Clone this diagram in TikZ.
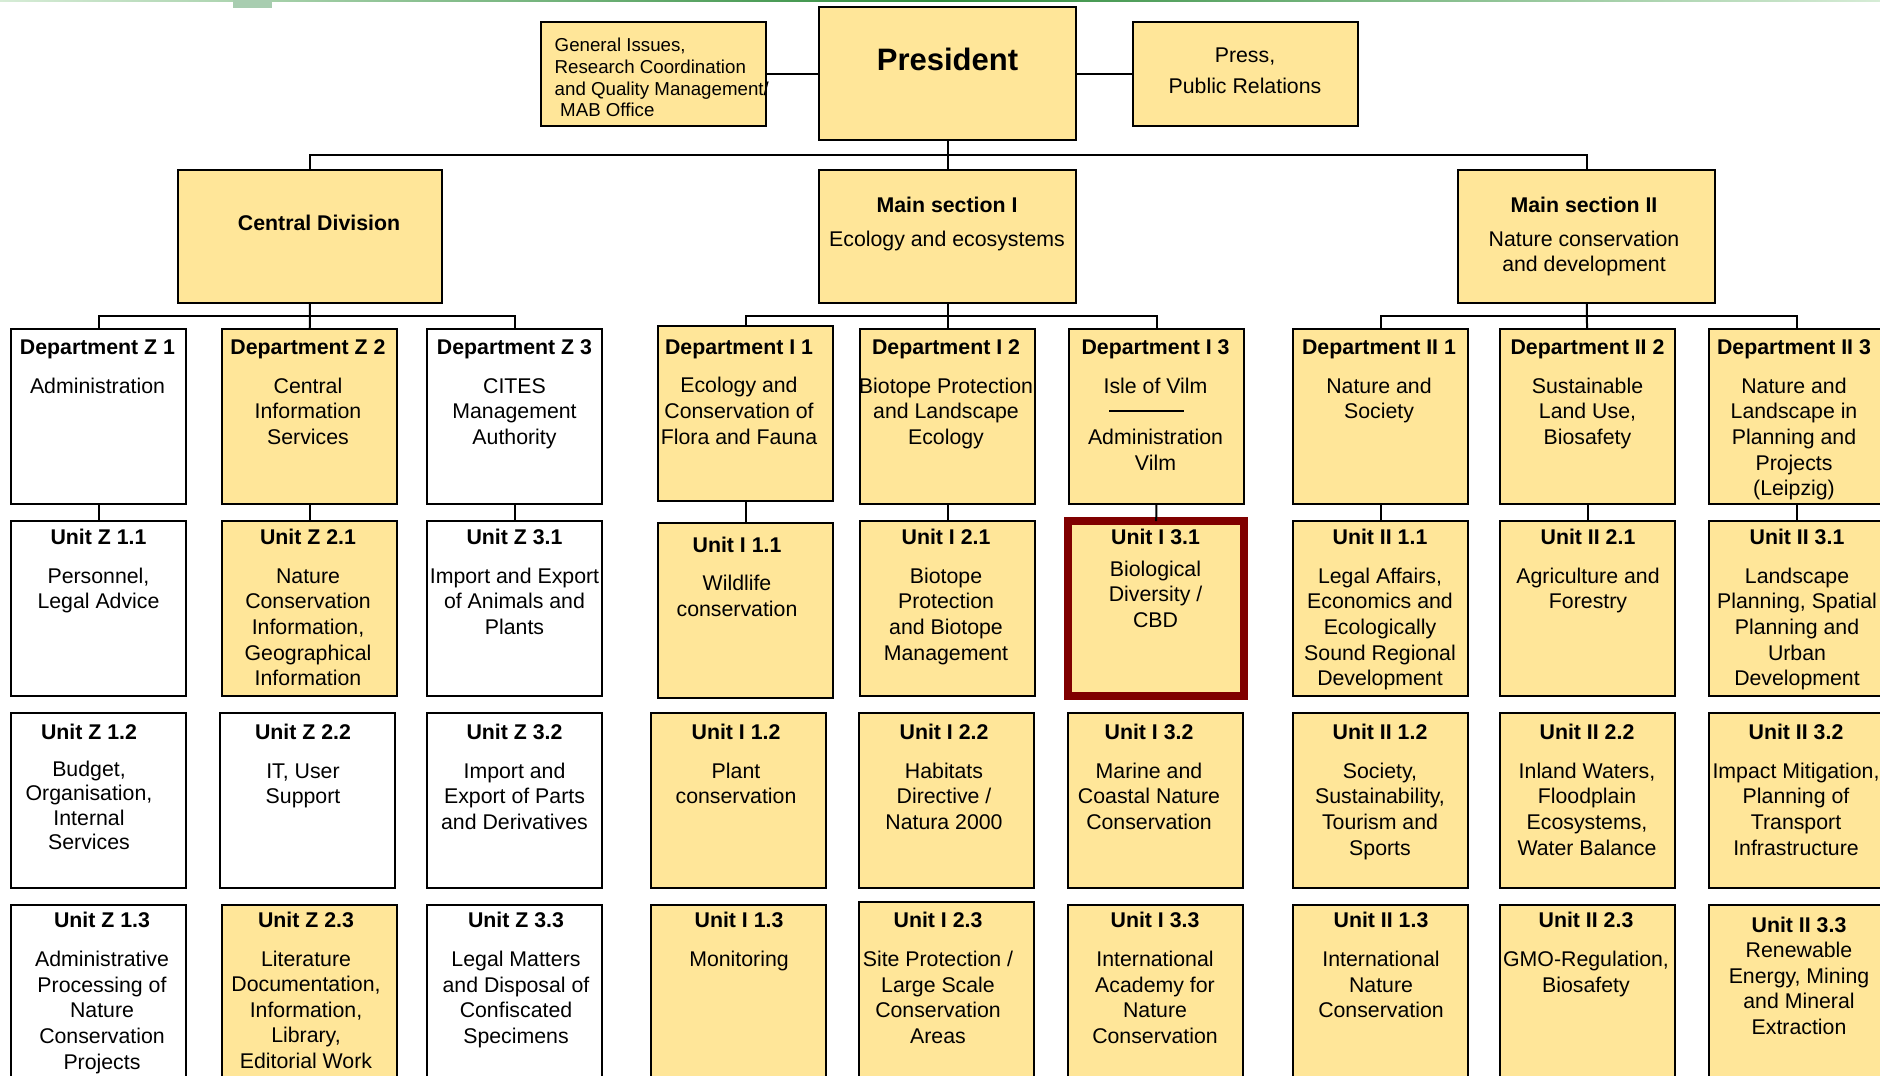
\documentclass[tikz,border=0pt]{standalone}
\usepackage{fontspec}
\setmainfont{Liberation Sans}
\definecolor{ybox}{RGB}{255,230,153}
\definecolor{redb}{RGB}{128,0,0}
\definecolor{gdark}{RGB}{46,139,60}
\definecolor{glight}{RGB}{214,236,214}
\definecolor{gpatch}{RGB}{168,205,176}
\newcommand\obox[4]{\node[#2] (#1) at (#3+1,#4+1) {};}
\newcommand\otxt[7][]{\node[txt,#1] (#2) at (#3,#4) {\strut\textbf{#6}\\[#5pt]#7};}
\tikzset{
  box/.style={draw=black, line width=2pt, fill=ybox, minimum width=175pt, minimum height=175pt, inner sep=0pt, outer sep=0pt, anchor=north west},
  wbox/.style={box, fill=white},
  topbox/.style={draw=black, line width=2pt, fill=ybox, inner sep=0pt, outer sep=0pt, anchor=north west},
  txt/.style={anchor=north, inner sep=0pt, align=center, font=\fontsize{21.3}{25.6}\selectfont},
  conn/.style={draw=black, line width=2pt},
}
\begin{document}
\begin{tikzpicture}[x=1pt,y=-1pt]
\useasboundingbox (0,0) rectangle (1880,1076);
\clip (0,0) rectangle (1880,1076);
\fill[white] (0,0) rectangle (1880,1076);
% top decoration
\shade[left color=glight, right color=gdark] (0,0) rectangle (940,1.6);
\shade[left color=gdark, right color=glight] (940,0) rectangle (1880,1.6);
\fill[gpatch] (233,0) rectangle (272,8);

% top level boxes
\node[topbox, minimum width=257pt, minimum height=133pt] (pres) at (819,7) {};
\node[topbox, minimum width=225pt, minimum height=104pt] (gen) at (541,22) {};
\node[topbox, minimum width=225pt, minimum height=104pt] (press) at (1133,22) {};
\node[topbox, minimum width=264pt, minimum height=133pt] (cd) at (178,170) {};
\node[topbox, minimum width=257pt, minimum height=133pt] (m1) at (819,170) {};
\node[topbox, minimum width=257pt, minimum height=133pt] (m2) at (1458,170) {};

% departments
\obox{z1}{wbox}{10}{328}
\obox{z2}{box}{221}{328}
\obox{z3}{wbox}{426}{328}
\obox{i1}{box}{657}{325}
\obox{i2}{box}{859}{328}
\obox{i3}{box}{1068}{328}
\obox{ii1}{box}{1292}{328}
\obox{ii2}{box}{1499}{328}
\obox{ii3}{box}{1708}{328}
% units row 1
\obox{z11}{wbox}{10}{520}
\obox{z21}{box}{221}{520}
\obox{z31}{wbox}{426}{520}
\obox{i11}{box}{657}{522}
\obox{i21}{box}{859}{520}
\node[box, draw=redb, line width=7.5pt, minimum width=176pt, minimum height=175pt] (i31) at (1068,521) {};
\obox{ii11}{box}{1292}{520}
\obox{ii21}{box}{1499}{520}
\obox{ii31}{box}{1708}{520}
% units row 2
\obox{z12}{wbox}{10}{712}
\obox{z22}{wbox}{219}{712}
\obox{z32}{wbox}{426}{712}
\obox{i12}{box}{650}{712}
\obox{i22}{box}{858}{712}
\obox{i32}{box}{1067}{712}
\obox{ii12}{box}{1292}{712}
\obox{ii22}{box}{1499}{712}
\obox{ii32}{box}{1708}{712}
% units row 3
\obox{z13}{wbox}{10}{904}
\obox{z23}{box}{221}{904}
\obox{z33}{wbox}{426}{904}
\obox{i13}{box}{650}{904}
\obox{i23}{box}{858}{901}
\obox{i33}{box}{1067}{904}
\obox{ii13}{box}{1292}{904}
\obox{ii23}{box}{1499}{904}
\obox{ii33}{box}{1708}{904}

% connectors
\coordinate (b0) at (947.5,155);
\coordinate (bz) at (310,316);
\coordinate (bi) at (947.5,316);
\coordinate (bii) at (1587,316);
\draw[conn] (gen.east) -- (gen.east -| pres.west);
\draw[conn] (press.west) -- (press.west -| pres.east);
\draw[conn] (pres) -- (m1);
\draw[conn] (cd.north) |- (b0) -| (m2.north);
\draw[conn] (z1.north) |- (bz) -| (z3.north);
\draw[conn] (cd) -- (z2);
\draw[conn] (i1.north) |- (bi) -| (i3.north);
\draw[conn] (m1) -- (i2);
\draw[conn] (ii1.north) |- (bii) -| (ii3.north);
\draw[conn] (m2) -- (ii2);
\foreach \a/\b in {z1/z11,z2/z21,z3/z31,i1/i11,i2/i21,i3/i31,ii1/ii11,ii2/ii21,ii3/ii31}
  \draw[conn] (\a) -- (\b);

% top texts
\node[anchor=base, inner sep=0pt, font=\bfseries\fontsize{31}{37}\selectfont] (prest) at (947.5,70) {President};
\node[anchor=north west, inner sep=0pt, align=left, font=\fontsize{18.7}{21.7}\selectfont] (gent) at (554.5,36.5)
  {\strut General Issues,\\Research Coordination\\and Quality Management/\\\hspace*{5.5pt}MAB Office};
\node[anchor=north, inner sep=0pt, align=center, font=\fontsize{21.3}{30.5}\selectfont] (presst) at (1245,41.3)
  {\strut Press,\\Public Relations};
\node[anchor=base, inner sep=0pt, font=\bfseries\fontsize{21.3}{25.6}\selectfont] (cdt) at (319,230) {Central Division};
\otxt[font=\fontsize{21.3}{24.5}\selectfont]{m1t}{947}{194.8}{10}{Main section I}{Ecology and ecosystems}
\otxt[font=\fontsize{21.3}{24.5}\selectfont]{m2t}{1584}{194.8}{10}{Main section II}{Nature conservation\\and development}

% department texts
\otxt{z1t}{97.5}{336.4}{13.2}{Department Z 1}{Administration}
\otxt{z2t}{308}{336.4}{13.2}{Department Z 2}{Central\\Information\\Services}
\otxt{z3t}{514.5}{336.4}{13.2}{Department Z 3}{CITES\\Management\\Authority}
\otxt{i1t}{739}{336}{13.2}{Department I 1}{Ecology and\\Conservation of\\Flora and Fauna}
\otxt{i2t}{946}{336.4}{13.2}{Department I 2}{Biotope Protection\\and Landscape\\Ecology}
\otxt{i3t}{1155.5}{336.4}{13.2}{Department I 3}{Isle of Vilm\\[25.6pt]Administration\\Vilm}
\draw[line width=1.5pt] (1109,411) -- (1184,411);
\otxt{ii1t}{1379}{336.4}{13.2}{Department II 1}{Nature and\\Society}
\otxt{ii2t}{1587.5}{336.4}{13.2}{Department II 2}{Sustainable\\Land Use,\\Biosafety}
\otxt{ii3t}{1794}{336.4}{13.2}{Department II 3}{Nature and\\Landscape in\\Planning and\\Projects\\(Leipzig)}

% unit row 1
\otxt{z11t}{98.5}{526.7}{12.9}{Unit Z 1.1}{Personnel,\\Legal Advice}
\otxt{z21t}{308}{526.7}{12.9}{Unit Z 2.1}{Nature\\Conservation\\Information,\\Geographical\\Information}
\otxt{z31t}{514.5}{526.7}{12.9}{Unit Z 3.1}{Import and Export\\of Animals and\\Plants}
\otxt{i11t}{737}{533.9}{13.2}{Unit I 1.1}{Wildlife\\conservation}
\otxt{i21t}{946}{526.7}{12.9}{Unit I 2.1}{Biotope\\Protection\\and Biotope\\Management}
\otxt{i31t}{1155.5}{526.7}{5.7}{Unit I 3.1}{Biological\\Diversity /\\CBD}
\otxt{ii11t}{1380}{526.7}{12.9}{Unit II 1.1}{Legal Affairs,\\Economics and\\Ecologically\\Sound Regional\\Development}
\otxt{ii21t}{1588}{526.7}{12.9}{Unit II 2.1}{Agriculture and\\Forestry}
\otxt{ii31t}{1797}{526.7}{12.9}{Unit II 3.1}{Landscape\\Planning, Spatial\\Planning and\\Urban\\Development}

% unit row 2
\otxt[font=\fontsize{21.3}{24.3}\selectfont]{z12t}{89}{721.8}{13.3}{Unit Z 1.2}{Budget,\\Organisation,\\Internal\\Services}
\otxt{z22t}{303}{721.4}{13.2}{Unit Z 2.2}{IT, User\\Support}
\otxt{z32t}{514.5}{721.4}{13.2}{Unit Z 3.2}{Import and\\Export of Parts\\and Derivatives}
\otxt{i12t}{736}{721.4}{13.2}{Unit I 1.2}{Plant\\conservation}
\otxt{i22t}{944}{721.4}{13.2}{Unit I 2.2}{Habitats\\Directive /\\Natura 2000}
\otxt{i32t}{1149}{721.4}{13.2}{Unit I 3.2}{Marine and\\Coastal Nature\\Conservation}
\otxt{ii12t}{1380}{721.4}{13.2}{Unit II 1.2}{Society,\\Sustainability,\\Tourism and\\Sports}
\otxt{ii22t}{1587}{721.4}{13.2}{Unit II 2.2}{Inland Waters,\\Floodplain\\Ecosystems,\\Water Balance}
\otxt{ii32t}{1796}{721.4}{13.2}{Unit II 3.2}{Impact Mitigation,\\Planning of\\Transport\\Infrastructure}

% unit row 3
\otxt{z13t}{102}{909.7}{13.2}{Unit Z 1.3}{Administrative\\Processing of\\Nature\\Conservation\\Projects}
\otxt{z23t}{306}{909.2}{13.2}{Unit Z 2.3}{Literature\\Documentation,\\Information,\\Library,\\Editorial Work}
\otxt{z33t}{516}{909.7}{13.2}{Unit Z 3.3}{Legal Matters\\and Disposal of\\Confiscated\\Specimens}
\otxt{i13t}{739}{909.7}{13.2}{Unit I 1.3}{Monitoring}
\otxt{i23t}{938}{909.5}{13.2}{Unit I 2.3}{Site Protection /\\Large Scale\\Conservation\\Areas}
\otxt{i33t}{1155}{909.7}{13.2}{Unit I 3.3}{International\\Academy for\\Nature\\Conservation}
\otxt{ii13t}{1381}{909.7}{13.2}{Unit II 1.3}{International\\Nature\\Conservation}
\otxt{ii23t}{1586}{909.7}{13.2}{Unit II 2.3}{GMO-Regulation,\\Biosafety}
\otxt{ii33t}{1799}{913.9}{0}{Unit II 3.3}{Renewable\\Energy, Mining\\and Mineral\\Extraction}
\end{tikzpicture}
\end{document}
